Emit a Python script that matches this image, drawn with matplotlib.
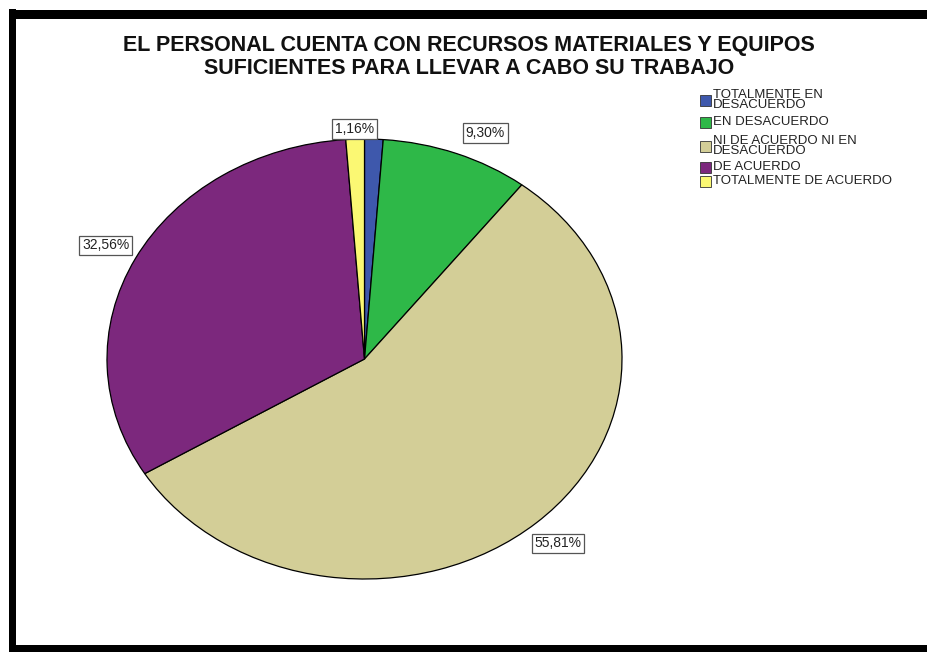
import numpy as np
import matplotlib.pyplot as plt
from matplotlib.patches import Rectangle

plt.rcParams['font.family'] = ['Liberation Sans', 'DejaVu Sans']

categorias = ['TOTALMENTE EN\nDESACUERDO', 'EN DESACUERDO', 'NI DE ACUERDO NI EN\nDESACUERDO',
              'DE ACUERDO', 'TOTALMENTE DE ACUERDO']
porcentajes = [1.16, 9.30, 55.81, 32.56, 1.16]
# solo estas porciones llevan etiqueta
con_etiqueta = [False, True, True, True, True]
colores = ['#3e58ac', '#2eb848', '#d3ce97', '#7c287d', '#fbf873']

titulo = ['EL PERSONAL CUENTA CON RECURSOS MATERIALES Y EQUIPOS',
          'SUFICIENTES PARA LLEVAR A CABO SU TRABAJO']

W, H = 928, 652
fig = plt.figure(figsize=(W / 100, H / 100), dpi=100)
ax = fig.add_axes([107 / W, 73 / H, 515 / W, 440 / H])

wedges, _ = ax.pie(porcentajes, colors=colores, startangle=90, counterclock=False,
                   wedgeprops=dict(edgecolor='black', linewidth=0.9))
ax.set_aspect('auto')
ax.set_xlim(-1, 1)
ax.set_ylim(-1, 1)

# distancia y alineacion de cada etiqueta
dist = [1.1, 1.1, 1.125, 1.13, 1.045]
alin = ['center', 'left', 'center', 'center', 'center']
for w, p, show, d, ha in zip(wedges, porcentajes, con_etiqueta, dist, alin):
    if not show:
        continue
    ang = np.deg2rad((w.theta1 + w.theta2) / 2)
    ax.text(d * np.cos(ang), d * np.sin(ang), f'{p:.2f}%'.replace('.', ','),
            ha=ha, va='center', fontsize=10, color='#222222', clip_on=False,
            bbox=dict(boxstyle='square,pad=0.2', facecolor='white', edgecolor='#555555', linewidth=0.9))

# titulo en dos lineas
for linea, y in zip(titulo, [46, 68]):
    fig.text(469 / W, 1 - y / H, linea, ha='center', va='center', fontsize=15.5,
             fontweight='bold', color='#111111')

# leyenda a mano: cuadro de color + texto
leyenda_y = [100, 122, 146, 167, 181]
for cat, c, y in zip(categorias, colores, leyenda_y):
    fig.add_artist(Rectangle((700 / W, 1 - (y + 6) / H), 11 / W, 11 / H, transform=fig.transFigure,
                             facecolor=c, edgecolor='#333333', linewidth=0.6))
    fig.text(713 / W, 1 - y / H, cat, ha='left', va='center', fontsize=9.5, linespacing=0.85,
             color='#222222')

# marco negro
for x, y, w, h in [(9, 0, 7, 643), (9, 633, 919, 9), (9, 0, 919, 7)]:
    fig.add_artist(Rectangle((x / W, y / H), w / W, h / H, transform=fig.transFigure,
                             facecolor='black', edgecolor='none'))

fig.savefig('out.png', dpi=100)
